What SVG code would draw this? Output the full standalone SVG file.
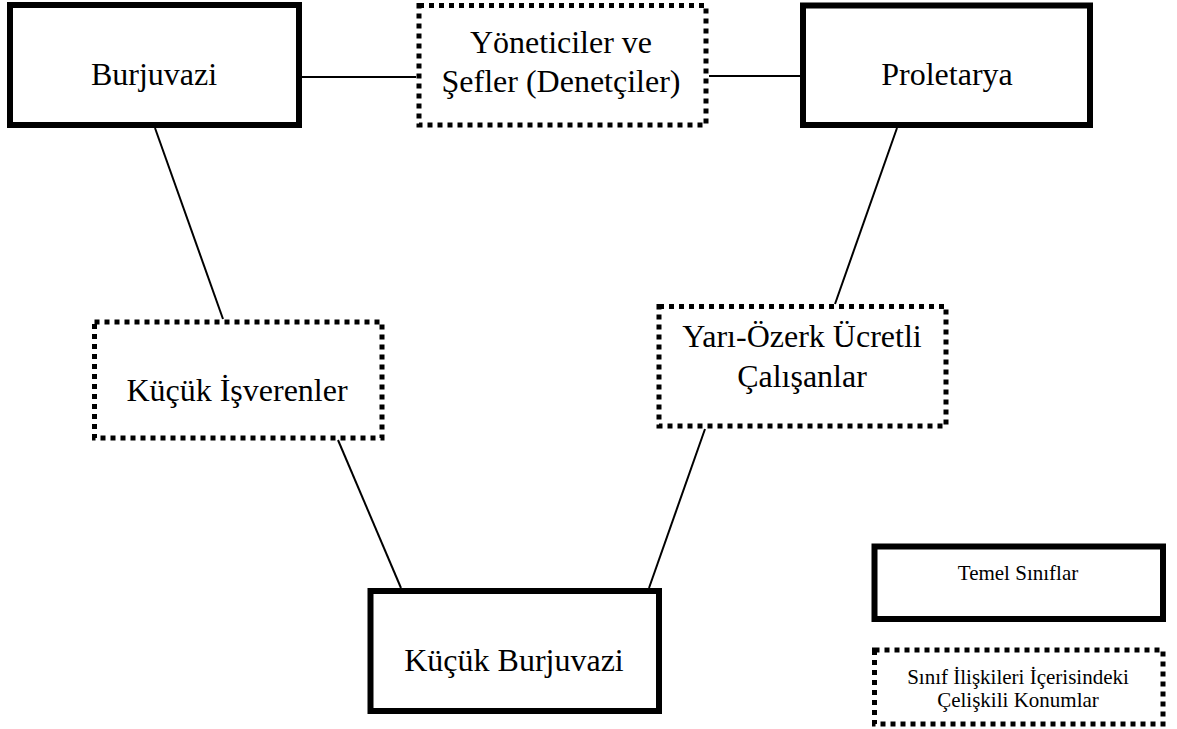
<svg xmlns="http://www.w3.org/2000/svg" width="1177" height="729" viewBox="0 0 1177 729">
<style>
.solid{fill:#fff;stroke:#000;stroke-width:6}
.dotted{fill:#fff;stroke:#000;stroke-width:5;stroke-dasharray:5 5}
.t{font-family:"Liberation Serif","Times New Roman",serif;font-size:32px;fill:#000;text-anchor:middle}
.lt{font-family:"Liberation Serif","Times New Roman",serif;font-size:21px;fill:#000;text-anchor:middle}
.c line{stroke:#000;stroke-width:2}
</style>
<rect width="1177" height="729" fill="#fff"/>
<g class="c" id="connectors">
<line x1="302" y1="77" x2="416" y2="77"/>
<line x1="709" y1="76" x2="800" y2="76"/>
<line x1="155" y1="128" x2="223" y2="319"/>
<line x1="897" y1="128" x2="835" y2="304"/>
<line x1="338" y1="440" x2="401" y2="588"/>
<line x1="705" y1="429" x2="649" y2="588"/>
</g>
<g id="burjuvazi">
<rect class="solid" x="10" y="5" width="289" height="120"/>
<text class="t" x="154" y="85">Burjuvazi</text>
</g>
<g id="yoneticiler">
<rect class="dotted" x="419" y="5.5" width="287" height="119.5"/>
<text class="t" x="561" y="53">Yöneticiler ve</text>
<text class="t" x="561" y="92">Şefler (Denetçiler)</text>
</g>
<g id="proletarya">
<rect class="solid" x="803" y="5.5" width="287" height="119.5"/>
<text class="t" x="947" y="85">Proletarya</text>
</g>
<g id="kucuk-isverenler">
<rect class="dotted" x="94.5" y="322" width="287.5" height="116"/>
<text class="t" x="237" y="401">Küçük İşverenler</text>
</g>
<g id="yari-ozerk">
<rect class="dotted" x="659" y="306.5" width="287" height="119.5"/>
<text class="t" x="802" y="347">Yarı-Özerk Ücretli</text>
<text class="t" x="802" y="387">Çalışanlar</text>
</g>
<g id="kucuk-burjuvazi">
<rect class="solid" x="370.5" y="591" width="288.5" height="120"/>
<text class="t" x="514" y="671">Küçük Burjuvazi</text>
</g>
<g id="legend-temel">
<rect class="solid" x="874.5" y="546.5" width="288.5" height="72.5"/>
<text class="lt" x="1018" y="580">Temel Sınıflar</text>
</g>
<g id="legend-celiskili">
<rect class="dotted" x="874.5" y="650" width="288.5" height="74"/>
<text class="lt" x="1018" y="684">Sınıf İlişkileri İçerisindeki</text>
<text class="lt" x="1018" y="707">Çelişkili Konumlar</text>
</g>
</svg>
